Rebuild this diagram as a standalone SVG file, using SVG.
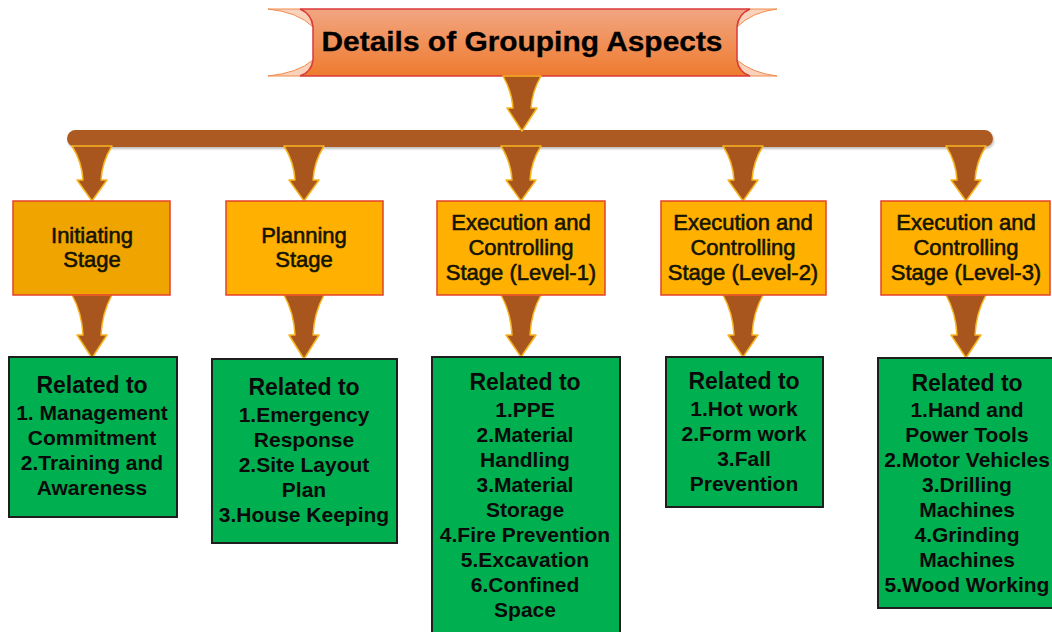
<svg xmlns="http://www.w3.org/2000/svg" width="1052" height="632" viewBox="0 0 1052 632">
<defs>
<linearGradient id="bannerGrad" x1="0" y1="0" x2="0" y2="1">
<stop offset="0" stop-color="#F2A582"/>
<stop offset="1" stop-color="#EE7B2E"/>
</linearGradient>
<filter id="shadow" filterUnits="userSpaceOnUse" x="50" y="120" width="960" height="40">
<feDropShadow dx="1" dy="2" stdDeviation="1.2" flood-color="#000" flood-opacity="0.25"/>
</filter>
</defs>
<style>
.arrow{fill:#A9561E;stroke:#F7B520;stroke-width:1.5;stroke-linejoin:round}
.stage{fill:#FFB000;stroke:#E4412D;stroke-width:1.5}
.green{fill:#00B050;stroke:#1E1E1E;stroke-width:2}
.st{font-family:"Liberation Sans",Arial,sans-serif;font-size:22px;fill:#141400;stroke:#141400;stroke-width:0.6;text-anchor:middle}
.gh{font-family:"Liberation Sans",Arial,sans-serif;font-weight:bold;font-size:23px;fill:#0A0A0A;text-anchor:middle}
.gi{font-family:"Liberation Sans",Arial,sans-serif;font-weight:bold;font-size:21px;fill:#0A0A0A;text-anchor:middle}
.title{font-family:"Liberation Sans",Arial,sans-serif;font-weight:bold;font-size:28px;fill:#000;text-anchor:middle}
</style>
<rect width="1052" height="632" fill="#FFFFFF"/>

<g id="title">
<path d="M268,9 L300,9 Q310,13 313,27 Q298,12 268,9 Z" fill="#FAD2BC" stroke="#F08A4A" stroke-width="1"/>
<path d="M268,76 L300,76 Q310,72 313,60 Q298,73 268,76 Z" fill="#FAD2BC" stroke="#F08A4A" stroke-width="1"/>
<path d="M777,9 L750,9 Q740,13 737,27 Q752,12 777,9 Z" fill="#FAD2BC" stroke="#F08A4A" stroke-width="1"/>
<path d="M777,76 L750,76 Q740,72 737,60 Q752,73 777,76 Z" fill="#FAD2BC" stroke="#F08A4A" stroke-width="1"/>
<path d="M300,9 L750,9 Q738,14 737,27 L737,60 Q738,72 750,76 L300,76 Q312,72 313,60 L313,27 Q312,14 300,9 Z" fill="url(#bannerGrad)" stroke="#D93A3A" stroke-width="1.5"/>
<text class="title" x="522" y="51" textLength="401" lengthAdjust="spacingAndGlyphs" stroke="#000" stroke-width="0.3">Details of Grouping Aspects</text>
</g>

<g id="connectors">
<rect x="67" y="130" width="926" height="17" rx="8.5" fill="#AD5A21" filter="url(#shadow)"/>
<path class="arrow" d="M503,76 L541,76 Q532,92 531,108 L537,108 L522,131 L507,108 L513,108 Q512,92 503,76 Z"/>
<path class="arrow" d="M72,146 L112,146 Q102,162 101,180 L107,180 L92,201 L77,180 L83,180 Q82,162 72,146 Z"/>
<path class="arrow" d="M284,146 L324,146 Q314,162 313,180 L319,180 L304,201 L289,180 L295,180 Q294,162 284,146 Z"/>
<path class="arrow" d="M501,146 L541,146 Q531,162 530,180 L536,180 L521,201 L506,180 L512,180 Q511,162 501,146 Z"/>
<path class="arrow" d="M723,146 L763,146 Q753,162 752,180 L758,180 L743,201 L728,180 L734,180 Q733,162 723,146 Z"/>
<path class="arrow" d="M946,146 L986,146 Q976,162 975,180 L981,180 L966,201 L951,180 L957,180 Q956,162 946,146 Z"/>
<path class="arrow" d="M72,295 L112,295 Q102,313 101,335 L107,335 L92,358 L77,335 L83,335 Q82,313 72,295 Z"/>
<path class="arrow" d="M284,295 L324,295 Q314,313 313,335 L319,335 L304,359 L289,335 L295,335 Q294,313 284,295 Z"/>
<path class="arrow" d="M501,295 L541,295 Q531,313 530,335 L536,335 L521,357 L506,335 L512,335 Q511,313 501,295 Z"/>
<path class="arrow" d="M723,295 L763,295 Q753,313 752,335 L758,335 L743,357 L728,335 L734,335 Q733,313 723,295 Z"/>
<path class="arrow" d="M946,295 L986,295 Q976,313 975,335 L981,335 L966,358 L951,335 L957,335 Q956,313 946,295 Z"/>
</g>

<g id="stage-initiating">
<rect class="stage" x="13" y="201" width="157" height="94" style="fill:#F0A400"/>
<text class="st" x="92" y="243">Initiating</text>
<text class="st" x="92" y="267">Stage</text>
</g>
<g id="stage-planning">
<rect class="stage" x="226" y="201" width="157" height="94"/>
<text class="st" x="304" y="243">Planning</text>
<text class="st" x="304" y="267">Stage</text>
</g>
<g id="stage-level1">
<rect class="stage" x="437" y="201" width="168" height="94"/>
<text class="st" x="521" y="230">Execution and</text>
<text class="st" x="521" y="255">Controlling</text>
<text class="st" x="521" y="280">Stage (Level-1)</text>
</g>
<g id="stage-level2">
<rect class="stage" x="661" y="201" width="165" height="94"/>
<text class="st" x="743" y="230">Execution and</text>
<text class="st" x="743" y="255">Controlling</text>
<text class="st" x="743" y="280">Stage (Level-2)</text>
</g>
<g id="stage-level3">
<rect class="stage" x="881" y="201" width="169" height="94"/>
<text class="st" x="966" y="230">Execution and</text>
<text class="st" x="966" y="255">Controlling</text>
<text class="st" x="966" y="280">Stage (Level-3)</text>
</g>

<g id="related-initiating">
<rect class="green" x="9" y="357" width="168" height="160"/>
<text class="gh" x="92" y="393">Related to</text>
<text class="gi" x="92" y="420">1. Management</text>
<text class="gi" x="92" y="445">Commitment</text>
<text class="gi" x="92" y="470">2.Training and</text>
<text class="gi" x="92" y="495">Awareness</text>
</g>
<g id="related-planning">
<rect class="green" x="212" y="359" width="185" height="184"/>
<text class="gh" x="304" y="395">Related to</text>
<text class="gi" x="304" y="422">1.Emergency</text>
<text class="gi" x="304" y="447">Response</text>
<text class="gi" x="304" y="472">2.Site Layout</text>
<text class="gi" x="304" y="497">Plan</text>
<text class="gi" x="304" y="522">3.House Keeping</text>
</g>
<g id="related-level1">
<rect class="green" x="432" y="357" width="188" height="290"/>
<text class="gh" x="525" y="390">Related to</text>
<text class="gi" x="525" y="417">1.PPE</text>
<text class="gi" x="525" y="442">2.Material</text>
<text class="gi" x="525" y="467">Handling</text>
<text class="gi" x="525" y="492">3.Material</text>
<text class="gi" x="525" y="517">Storage</text>
<text class="gi" x="525" y="542">4.Fire Prevention</text>
<text class="gi" x="525" y="567">5.Excavation</text>
<text class="gi" x="525" y="592">6.Confined</text>
<text class="gi" x="525" y="617">Space</text>
</g>
<g id="related-level2">
<rect class="green" x="666" y="357" width="157" height="150"/>
<text class="gh" x="744" y="389">Related to</text>
<text class="gi" x="744" y="416">1.Hot work</text>
<text class="gi" x="744" y="441">2.Form work</text>
<text class="gi" x="744" y="466">3.Fall</text>
<text class="gi" x="744" y="491">Prevention</text>
</g>
<g id="related-level3">
<rect class="green" x="878" y="358" width="180" height="250"/>
<text class="gh" x="967" y="391">Related to</text>
<text class="gi" x="967" y="417">1.Hand and</text>
<text class="gi" x="967" y="442">Power Tools</text>
<text class="gi" x="967" y="467">2.Motor Vehicles</text>
<text class="gi" x="967" y="492">3.Drilling</text>
<text class="gi" x="967" y="517">Machines</text>
<text class="gi" x="967" y="542">4.Grinding</text>
<text class="gi" x="967" y="567">Machines</text>
<text class="gi" x="967" y="592">5.Wood Working</text>
</g>
</svg>
